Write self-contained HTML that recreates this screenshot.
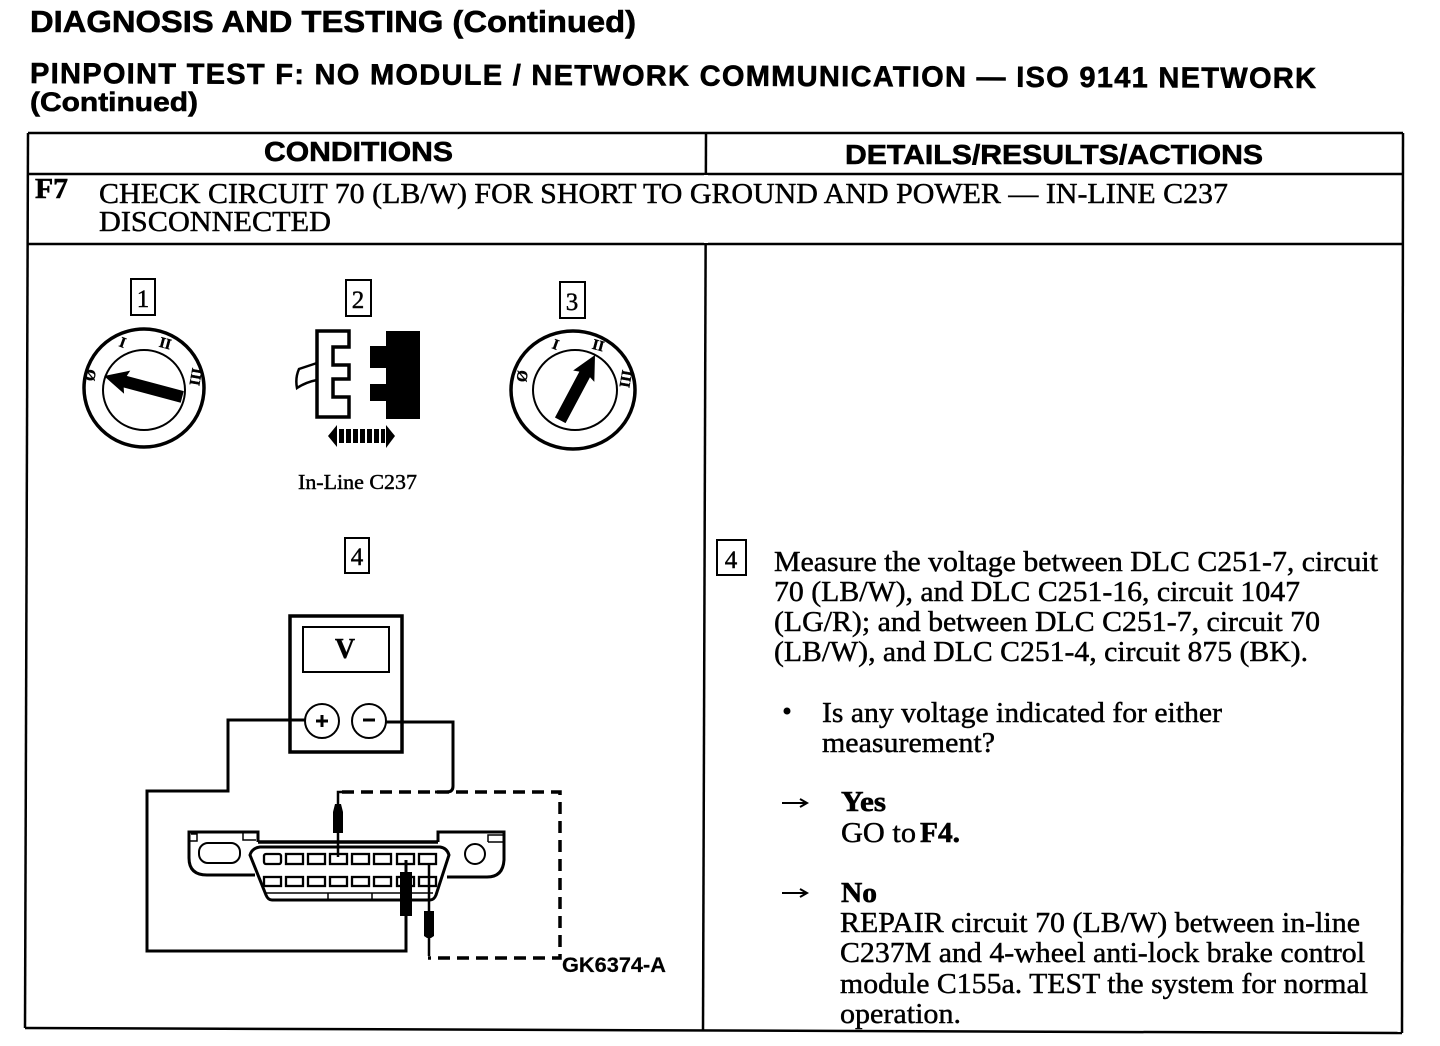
<!DOCTYPE html>
<html lang="en">
<head>
<meta charset="utf-8">
<title>Pinpoint Test F</title>
<style>
html,body{margin:0;padding:0;background:#fff;width:1440px;height:1046px;overflow:hidden}
svg{display:block}
.s{font-family:"Liberation Sans",sans-serif;font-weight:700;fill:#000;stroke:#000;stroke-width:.6}
.t{font-family:"Liberation Serif",serif;fill:#000;stroke:#000;stroke-width:.45;font-size:29px}
.b{font-weight:700;stroke-width:.6}
.l{stroke:#000;fill:none}
.k{font-family:"Liberation Serif",serif;font-weight:700;font-size:15px;fill:#000;stroke:#000;stroke-width:.4;text-anchor:middle}
</style>
</head>
<body>
<svg width="1440" height="1046" viewBox="0 0 1440 1046" xmlns="http://www.w3.org/2000/svg">
<rect width="1440" height="1046" fill="#fff"/>

<!-- Headings -->
<text class="s" x="30" y="32" font-size="31" textLength="606" lengthAdjust="spacingAndGlyphs">DIAGNOSIS AND TESTING (Continued)</text>
<text class="s" x="30" y="83" font-size="29" textLength="1286" lengthAdjust="spacing" transform="rotate(.22 30 83)">PINPOINT TEST F: NO MODULE / NETWORK COMMUNICATION — ISO 9141 NETWORK</text>
<text class="s" x="30" y="111" font-size="27" textLength="168" lengthAdjust="spacingAndGlyphs">(Continued)</text>

<!-- Table frame -->
<g class="l" stroke-width="2.5">
<path d="M28 133H1403"/>
<path d="M28 133L25 1028"/>
<path d="M1403 133L1402 1033"/>
<path d="M25 1028L1402 1033"/>
<path d="M706 133L703 1031"/>
<path d="M28 174H1403"/>
<path d="M28 244H1403"/>
</g>
<rect x="704" y="175" width="4" height="68" fill="#fff"/>

<text class="s" x="264" y="161" font-size="28" textLength="189" lengthAdjust="spacingAndGlyphs">CONDITIONS</text>
<text class="s" x="845" y="164" font-size="28" textLength="418" lengthAdjust="spacingAndGlyphs">DETAILS/RESULTS/ACTIONS</text>

<text class="t b" x="35" y="198" textLength="33" lengthAdjust="spacingAndGlyphs">F7</text>
<text class="t" x="99" y="203" textLength="1129" lengthAdjust="spacingAndGlyphs">CHECK CIRCUIT 70 (LB/W) FOR SHORT TO GROUND AND POWER — IN-LINE C237</text>
<text class="t" x="99" y="231" textLength="232" lengthAdjust="spacingAndGlyphs">DISCONNECTED</text>

<!-- Step boxes -->
<g class="l" stroke-width="2">
<rect x="131" y="279" width="24" height="36"/>
<rect x="346" y="280" width="25" height="36"/>
<rect x="560" y="282" width="25" height="36"/>
<rect x="345" y="538" width="24" height="35"/>
<rect x="717" y="540" width="29" height="35"/>
</g>
<g class="t" style="font-size:25px" text-anchor="middle">
<text x="143" y="307">1</text>
<text x="358" y="308">2</text>
<text x="572" y="310">3</text>
<text x="357" y="565">4</text>
<text x="731" y="568">4</text>
</g>

<!-- Ignition 1 -->
<ellipse class="l" stroke-width="3.5" cx="144" cy="388" rx="60" ry="59"/>
<ellipse class="l" stroke-width="2" cx="144" cy="390" rx="41" ry="40"/>
<polygon transform="translate(104 376) rotate(15)" points="0,0 24,-12 22,-6 81,-6 81,6 22,6 24,12"/>
<text class="k" transform="translate(95 376) rotate(-80)">Ø</text>
<text class="k" transform="translate(121 347) rotate(20)">I</text>
<text class="k" transform="translate(164 348) rotate(15)" font-size="13">II</text>
<text class="k" transform="translate(191 376) rotate(100)" font-size="12">III</text>

<!-- Connector -->
<path class="l" stroke-width="3.5" d="M317 331H349V347H333V365H349V379H333V397H349V417H317Z"/>
<path class="l" stroke-width="2.5" d="M317 363L299 369Q295 378 297 388Q306 382 317 380"/>
<path d="M386 331H420V419H386V401H370V384H386V368H370V346H386Z"/>
<polygon points="328,436 337,425 337,447"/>
<polygon points="395,436 386,425 386,448"/>
<g>
<rect x="339" y="429" width="5" height="14"/>
<rect x="346" y="429" width="5" height="14"/>
<rect x="353" y="429" width="5" height="14"/>
<rect x="360" y="429" width="5" height="14"/>
<rect x="367" y="429" width="5" height="14"/>
<rect x="374" y="429" width="5" height="14"/>
<rect x="381" y="429" width="4" height="14"/>
</g>
<text class="t" style="font-size:21px" x="298" y="489" textLength="119" lengthAdjust="spacingAndGlyphs">In-Line C237</text>

<!-- Ignition 3 -->
<ellipse class="l" stroke-width="3.5" cx="573" cy="390" rx="62" ry="59"/>
<ellipse class="l" stroke-width="2" cx="575" cy="390" rx="42" ry="40"/>
<polygon transform="translate(595 355) rotate(118)" points="0,0 24,-12 22,-6 74,-6 74,6 22,6 24,12"/>
<text class="k" transform="translate(527 377) rotate(-80)">Ø</text>
<text class="k" transform="translate(554 349) rotate(20)">I</text>
<text class="k" transform="translate(597 350) rotate(15)" font-size="13">II</text>
<text class="k" transform="translate(621 378) rotate(100)" font-size="12">III</text>

<!-- Meter -->
<rect class="l" stroke-width="3.5" x="290" y="616" width="112" height="136"/>
<rect class="l" stroke-width="2" x="303" y="627" width="86" height="45"/>
<text x="345" y="658" text-anchor="middle" font-family="Liberation Serif,serif" font-weight="700" font-size="28" stroke="#000" stroke-width=".4">V</text>
<circle class="l" stroke-width="2" cx="322" cy="721" r="17" fill="#fff"/>
<circle class="l" stroke-width="2" cx="369" cy="721" r="17" fill="#fff"/>
<path class="l" stroke-width="3" d="M316 721H328M322 715V727"/>
<path class="l" stroke-width="3" d="M363 720H375"/>

<!-- Wires -->
<path class="l" stroke-width="3" d="M305 720H228V791H147V951H406V860"/>
<path class="l" stroke-width="3" d="M386 722H453V786Q453 792 447 792H435"/>
<path class="l" stroke-width="3.5" stroke-dasharray="12 7" d="M342 792H560V958H428"/>
<path class="l" stroke-width="2.5" d="M342 792H338V857"/>
<path class="l" stroke-width="2.5" d="M429 864V956"/>
<polygon points="335,804 341,804 343,812 343,833 333,833 333,812"/>
<rect x="400" y="880" width="12" height="36"/>
<polygon points="424,911 434,911 434,936 431,938 427,938 424,936"/>

<!-- DLC connector -->
<path class="l" stroke-width="3" d="M258 842V832H189V858Q189 875 207 875H255"/>
<path class="l" stroke-width="3" d="M438 842V832H504V860Q503 877 487 877H447"/>
<path class="l" stroke-width="3.5" d="M258 842H438"/>
<path class="l" stroke-width="3" d="M250 855Q252 848 260 847H440Q447 848 449 855L436 895Q434 900 430 900H272Q268 900 266 895Z"/>
<path class="l" stroke-width="1.5" d="M266 893H433M328 893V900M372 893V900"/>
<rect class="l" stroke-width="2" x="199" y="843" width="41" height="20" rx="9"/>
<circle class="l" stroke-width="2" cx="475" cy="854" r="10"/>
<path class="l" stroke-width="1.5" d="M191 834H197V841H190M243 833V840H256M488 842V835H503M488 842H503"/>
<g class="l" stroke-width="2.3">
<rect x="264" y="854" width="17" height="10" rx="2"/>
<rect x="286" y="854" width="17" height="10"/>
<rect x="308" y="854" width="17" height="10"/>
<rect x="330" y="854" width="17" height="10"/>
<rect x="352" y="854" width="17" height="10"/>
<rect x="374" y="854" width="17" height="10"/>
<rect x="397" y="854" width="17" height="10"/>
<rect x="419" y="854" width="17" height="10"/>
<rect x="264" y="877" width="17" height="9"/>
<rect x="286" y="877" width="17" height="9"/>
<rect x="308" y="877" width="17" height="9"/>
<rect x="330" y="877" width="17" height="9"/>
<rect x="352" y="877" width="17" height="9"/>
<rect x="374" y="877" width="17" height="9"/>
<rect x="397" y="877" width="17" height="9"/>
<rect x="419" y="877" width="17" height="9"/>
</g>
<path class="l" stroke-width="3" d="M406 864V885"/>
<path d="M400 872H412V885H400Z"/>
<text class="s" x="562" y="972" font-size="21" textLength="104" lengthAdjust="spacingAndGlyphs" style="stroke-width:.2">GK6374-A</text>

<!-- Right text -->
<text class="t" x="774" y="571" textLength="604" lengthAdjust="spacingAndGlyphs">Measure the voltage between DLC C251-7, circuit</text>
<text class="t" x="774" y="601" textLength="526" lengthAdjust="spacingAndGlyphs">70 (LB/W), and DLC C251-16, circuit 1047</text>
<text class="t" x="774" y="631" textLength="546" lengthAdjust="spacingAndGlyphs">(LG/R); and between DLC C251-7, circuit 70</text>
<text class="t" x="774" y="661" textLength="534" lengthAdjust="spacingAndGlyphs">(LB/W), and DLC C251-4, circuit 875 (BK).</text>
<circle cx="787" cy="711" r="3.5"/>
<text class="t" x="822" y="722" textLength="400" lengthAdjust="spacingAndGlyphs">Is any voltage indicated for either</text>
<text class="t" x="822" y="752" textLength="173" lengthAdjust="spacingAndGlyphs">measurement?</text>

<path class="l" stroke-width="2" d="M782 803H806M800 799L807 803L800 807"/>
<text class="t b" x="841" y="811" textLength="45" lengthAdjust="spacingAndGlyphs">Yes</text>
<text class="t" x="841" y="842" textLength="75" lengthAdjust="spacingAndGlyphs">GO to</text>
<text class="t b" x="920" y="842" textLength="40" lengthAdjust="spacingAndGlyphs">F4.</text>

<path class="l" stroke-width="2" d="M782 893H806M800 889L807 893L800 897"/>
<text class="t b" x="841" y="902" textLength="36" lengthAdjust="spacingAndGlyphs">No</text>
<text class="t" x="840" y="932" textLength="520" lengthAdjust="spacingAndGlyphs">REPAIR circuit 70 (LB/W) between in-line</text>
<text class="t" x="840" y="962" textLength="525" lengthAdjust="spacingAndGlyphs">C237M and 4-wheel anti-lock brake control</text>
<text class="t" x="840" y="993" textLength="528" lengthAdjust="spacingAndGlyphs">module C155a. TEST the system for normal</text>
<text class="t" x="840" y="1023" textLength="121" lengthAdjust="spacingAndGlyphs">operation.</text>
</svg>
</body>
</html>
